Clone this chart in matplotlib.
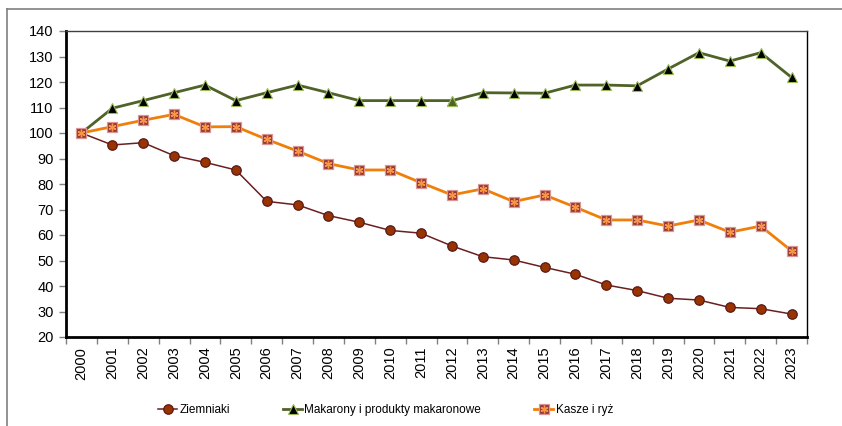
import matplotlib.pyplot as plt
from matplotlib.lines import Line2D

plt.rcParams['font.family'] = ['Liberation Sans', 'DejaVu Sans']

# --- data
years = [str(y) for y in range(2000, 2024)]
ziemniaki = [100, 95.3, 96.2, 91.1, 88.5, 85.5, 73.2, 71.8, 67.6, 65.0, 61.8, 60.7,
             55.7, 51.5, 50.2, 47.3, 44.6, 40.4, 38.2, 35.2, 34.5, 31.6, 31.1, 29.0]
makarony = [100, 109.7, 112.7, 115.8, 118.8, 112.7, 115.8, 118.8, 115.8, 112.7, 112.7, 112.7,
            112.7, 115.8, 115.7, 115.6, 118.8, 118.8, 118.5, 125.1, 131.5, 128.2, 131.5, 121.8]
kasze = [100, 102.5, 105.0, 107.3, 102.4, 102.5, 97.5, 92.9, 88.0, 85.5, 85.5, 80.5,
         75.7, 78.1, 73.1, 75.7, 70.9, 65.9, 65.9, 63.5, 65.9, 61.1, 63.5, 53.8]

x = list(range(len(years)))

fig = plt.figure(figsize=(8.42, 4.26), dpi=100)
ax = fig.add_axes([66 / 842, 89 / 426, 741 / 842, 306 / 426])

# outer chart frame (left and top edges only visible)
fig.add_artist(Line2D([7 / 842, 7 / 842], [0, 1 - 9 / 426], transform=fig.transFigure,
                      color='#808080', lw=1.2))
fig.add_artist(Line2D([7 / 842, 1], [1 - 9 / 426, 1 - 9 / 426], transform=fig.transFigure,
                      color='#808080', lw=1.2))

ax.plot(x, ziemniaki, color='#6b1f1f', lw=1.1, marker='o', ms=6.8,
        mfc='#993300', mec='#5a1a1a', mew=0.9, label='Ziemniaki', zorder=3)
ax.plot(x, makarony, color='#4f6228', lw=2, marker='^', ms=7,
        mfc='black', mec='#9bbb59', mew=0.8, label='Makarony i produkty makaronowe', zorder=3)
ax.plot([x[12]], [makarony[12]], ls='none', marker='^', ms=7,
        mfc='#4f6228', mec='#9bbb59', mew=0.8, zorder=4)
ax.plot(x, kasze, color='#f07f09', lw=2, marker='s', ms=6.8,
        mfc='#953735', mec='#d99694', mew=0.9, zorder=3)
ax.plot(x, kasze, ls='none', marker=(6, 2, 0), ms=5.5, mec='#f79646', mew=1.0, zorder=4)

ax.set_xlim(-0.5, len(years) - 0.5)
ax.set_ylim(20, 140)
ax.set_yticks(range(20, 141, 10))
ax.set_xticks(x)
ax.set_xticklabels(years, rotation=90)
ax.set_xticks([i + 0.5 for i in range(-1, len(years))], minor=True)
ax.tick_params(axis='x', which='major', length=0, labelsize=10.5, pad=7)
ax.tick_params(axis='x', which='minor', length=5, color='#808080', width=1)
ax.tick_params(axis='y', length=5, color='#808080', width=1, labelsize=10.5, pad=4)

ax.spines['left'].set_linewidth(2)
ax.spines['bottom'].set_linewidth(2)
ax.spines['top'].set_color('#404040')
ax.spines['top'].set_linewidth(1)
ax.spines['right'].set_linewidth(1)

h_kasze = (Line2D([], [], color='#f07f09', lw=2, marker='s', ms=6.8,
                  mfc='#953735', mec='#d99694', mew=0.9),
           Line2D([], [], ls='none', marker=(6, 2, 0), ms=5.5, mec='#f79646', mew=1.0))
handles, labels = ax.get_legend_handles_labels()
handles.append(h_kasze)
labels.append('Kasze i ryż')
fig.legend(handles, labels, loc='center', bbox_to_anchor=(0.458, 1 - 410 / 426), ncol=3,
           frameon=False, fontsize=8.5, handlelength=1.6, handletextpad=0.2,
           columnspacing=4.5)

fig.savefig('out.png', dpi=100)
